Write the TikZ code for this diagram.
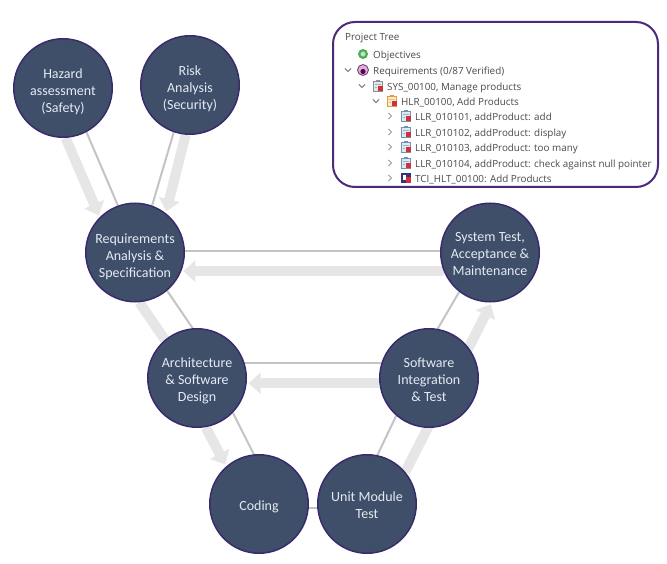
\documentclass[tikz,border=0pt]{standalone}
\usepackage{fontspec}
\setmainfont{Carlito}
\newfontfamily\treefont{Open Sans}
\usetikzlibrary{arrows.meta,backgrounds}
\definecolor{circfill}{HTML}{3F4F69}
\definecolor{circline}{HTML}{3A2A6E}
\definecolor{circtext}{HTML}{E4EAF2}
\definecolor{thinline}{HTML}{C4C4C4}
\definecolor{thickline}{HTML}{E6E6E6}
\definecolor{treeline}{HTML}{4B2A7B}
\definecolor{treetext}{HTML}{4A4A4A}
\definecolor{chev}{HTML}{707070}
\definecolor{iconred}{HTML}{D0303A}
\definecolor{iconsys}{HTML}{8A8F98}
\definecolor{iconhlr}{HTML}{E0A030}
\definecolor{iconllr}{HTML}{6F93B5}
\definecolor{icontci}{HTML}{3C2F7A}
\newcommand{\rs}[1]{\rule{0pt}{#1}}
\tikzset{
  stage/.style={circle,draw=circline,line width=1.5pt,fill=circfill,text=circtext,minimum size=98.5pt,inner sep=0pt,align=center,font=\fontsize{14}{17}\selectfont},
  thin link/.style={draw=thinline,line width=2pt},
  thick link/.style={draw=thickline,line width=10pt},
  thick arrow/.style={thick link,-{Triangle[width=21pt,length=12pt]},shorten >=2pt},
  tree label/.style={anchor=west,inner sep=0pt,text=treetext,font=\treefont\fontsize{9.85}{11}\selectfont},
  tree panel/.style={draw=treeline,line width=2pt,fill=white,rounded corners=22pt},
  open chev/.style={draw=chev,line width=0.9pt},
  closed chev/.style={draw=chev!70,line width=0.9pt},
}
\newcommand{\chevopen}[2]{\draw[open chev] (#1-3,#2-1.6) -- (#1,#2+1.6) -- (#1+3,#2-1.6);}
\newcommand{\chevclosed}[2]{\draw[closed chev] (#1-1.6,#2-3) -- (#1+1.6,#2) -- (#1-1.6,#2+3);}
\newcommand{\docicon}[3]{%
  \fill[#3!22] (#1-5,#2-4.5) rectangle (#1+4.5,#2+5);
  \draw[#3,line width=0.8pt] (#1-5,#2-4.5) rectangle (#1+4.5,#2+5);
  \fill[#3] (#1-2,#2-6) rectangle (#1+1.5,#2-3.5);
  \draw[#3!70,line width=0.5pt] (#1-3.5,#2-1.5) -- (#1+3,#2-1.5) (#1-3.5,#2+1) -- (#1-1,#2+1);
  \fill[iconred] (#1,#2) rectangle (#1+5,#2+5);}
\begin{document}
\begin{tikzpicture}[x=1pt,y=-1pt]
\useasboundingbox (0,0) rectangle (667,564);
% stages
\node[stage] (haz) at (63,88) {\rs{18pt}Hazard\\assessment\\(Safety)};
\node[stage] (risk) at (190,85) {\rs{18pt}Risk\\Analysis\\(Security)};
\node[stage] (req) at (135,252.5) {\rs{18pt}Requirements\\Analysis \&\\Specification};
\node[stage] (sys) at (490,252.5) {\rs{12.5pt}System Test,\\Acceptance \&\\Maintenance};
\node[stage] (arch) at (197,378) {\rs{15.5pt}Architecture\\\& Software\\Design};
\node[stage] (sw) at (429,378) {\rs{13pt}Software\\Integration\\\& Test};
\node[stage] (cod) at (259,504) {\rs{16pt}Coding};
\node[stage] (unit) at (367,504) {\rs{12pt}Unit Module\\Test};
% connectors
\begin{scope}[on background layer]
\fill[white] (0,0) rectangle (667,564);
\draw[thick arrow] (haz.-87) -- (req.135);
\draw[thick arrow] (risk.-95) -- (req.52);
\draw[thick arrow] (sys.202) -- (req.-22);
\draw[thick link] (req.-85) -- (arch.130);
\draw[thick arrow] (sw.186) -- (arch.-6);
\draw[thick arrow] (arch.-80) -- (cod.131);
\draw[thick arrow] (unit.40) -- (sys.-88);
\draw[thin link] (haz.-62) -- (req.110);
\draw[thin link] (risk.-109) -- (req.70);
\draw[thin link] (sys.178) -- (req.2);
\draw[thin link] (req.-50) -- (arch.95);
\draw[thin link] (sw.162) -- (arch.18);
\draw[thin link] (arch.-44) -- (cod.96);
\draw[thin link] (cod.-5) -- (unit.185);
\draw[thin link] (unit.78) -- (sw.-131);
\draw[thin link] (sw.80) -- (sys.-128);
\end{scope}
% project tree panel
\draw[tree panel] (333,22) rectangle (658,187);
\node[tree label] (t0) at (345,38.5) {Project Tree};
\node[tree label] (t1) at (373,55.5) {Objectives};
\node[tree label] (t2) at (373,71.5) {Requirements (0/87 Verified)};
\node[tree label] (t3) at (387,87.5) {SYS\_00100, Manage products};
\node[tree label] (t4) at (401,102.5) {HLR\_00100, Add Products};
\node[tree label] (t5) at (415,117.5) {LLR\_010101, addProduct: add};
\node[tree label] (t6) at (415,133.5) {LLR\_010102, addProduct: display};
\node[tree label] (t7) at (415,148.5) {LLR\_010103, addProduct: too many};
\node[tree label] (t8) at (415,164.5) {LLR\_010104, addProduct: check against null pointer};
\node[tree label] (t9) at (415,179.5) {TCI\_HLT\_00100: Add Products};
% chevrons
\chevopen{348}{70}
\chevopen{362}{86}
\chevopen{376}{101}
\chevclosed{390}{116}
\chevclosed{390}{132}
\chevclosed{390}{147}
\chevclosed{390}{163}
\chevclosed{390}{178}
% icons
\draw[draw=green!55!black!70,line width=2.2pt,fill=teal!25] (363,54) circle (3.8pt);
\fill[violet!30] (363,70) circle (5.5pt);
\draw[violet!60!black!80,line width=0.8pt] (363,70) circle (5.5pt);
\fill[violet!70!black] (363,71.5) circle (2.6pt);
\docicon{378}{86}{iconsys}
\docicon{392}{101}{iconhlr}
\docicon{406}{116}{iconllr}
\docicon{406}{132}{iconllr}
\docicon{406}{147}{iconllr}
\docicon{406}{163}{iconllr}
\fill[icontci] (401,173) rectangle (411,183);
\fill[white] (402.5,175) rectangle (405.5,180);
\fill[iconred] (406,177) rectangle (411,183);
\end{tikzpicture}
\end{document}
